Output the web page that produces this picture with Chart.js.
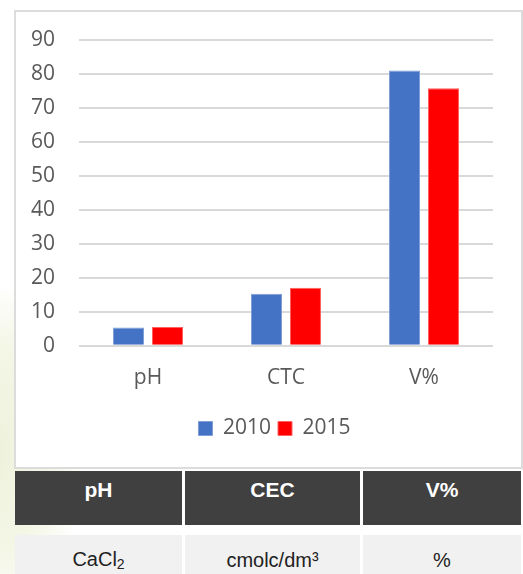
<!DOCTYPE html>
<html>
<head>
<meta charset="utf-8">
<script src="https://cdn.jsdelivr.net/npm/chart.js@4/dist/chart.umd.min.js"></script>
<style>
  html, body { margin: 0; padding: 0; }
  body {
    width: 523px; height: 574px; overflow: hidden; position: relative;
    background: #fff;
  }
  .bg {
    position: absolute; left: -60px; top: 290px; width: 140px; height: 320px;
    background: radial-gradient(ellipse at 40% 50%, #eef2dc 0%, #f4f6e6 45%, rgba(255,255,255,0) 75%);
  }
  .box {
    position: absolute; left: 14px; top: 10px; width: 505px; height: 455px;
    border: 2px solid #dcdcdc; background: #fff;
  }
  table.units {
    position: absolute; left: 12px; top: 468px; width: 512px;
    border-collapse: separate; border-spacing: 3px;
    font-family: "Liberation Sans", Arial, sans-serif; font-size: 20px;
  }
  table.units th {
    background: #404040; color: #fff; font-weight: bold; font-size: 21px; height: 54px;
    padding: 0 0 16px 0; box-sizing: border-box;
  }
  table.units td {
    background: #f1f1f1; color: #222; text-align: center; height: 46px; padding: 2px 0 0 0;
  }
  table.units tr.gap td { background: none; height: 4px; padding: 0; }
</style>
</head>
<body>
<div class="bg"></div>
<div class="box"><canvas id="chart" width="505" height="455"></canvas></div>
<table class="units">
  <tr><th style="width:167px">pH</th><th style="width:175px">CEC</th><th>V%</th></tr>
  <tr class="gap"><td></td><td></td><td></td></tr>
  <tr><td>CaCl<sub style="font-size:14px;vertical-align:-3px">2</sub></td><td>cmolc/dm³</td><td>%</td></tr>
</table>
<script>
  "use strict";

  // Chart data
  var categories = ["pH", "CTC", "V%"];
  var years = ["2010", "2015"];
  var values2010 = [5.4, 15.3, 81.0];
  var values2015 = [5.5, 17.1, 75.8];
  var yTicks = [0, 10, 20, 30, 40, 50, 60, 70, 80, 90];

  var textColor = "#595959";
  var font = { family: "'Open Sans', 'Noto Sans', sans-serif", size: 21 };

  // Legend sits centred on the whole box, not on the plot area
  var legendShift = {
    id: "legendShift",
    afterLayout: function (chart) {
      chart.legend.left += 20;
      chart.legend.right += 20;
    }
  };

  var ctx = document.getElementById("chart").getContext("2d");
  new Chart(ctx, {
    type: "bar",
    data: {
      labels: categories,
      datasets: [{
        label: years[0],
        data: values2010,
        backgroundColor: "#4472c4",
        borderColor: "#7f9fd6",
        borderWidth: 1,
        categoryPercentage: 0.565,
        barPercentage: 0.795
      }, {
        label: years[1],
        data: values2015,
        backgroundColor: "#ff0000",
        borderColor: "#ff6060",
        borderWidth: 1,
        categoryPercentage: 0.565,
        barPercentage: 0.795
      }]
    },
    plugins: [legendShift],
    options: {
      responsive: false,
      animation: false,
      layout: { padding: { left: 0, right: 28, top: 28, bottom: 18 } },
      plugins: {
        tooltip: { enabled: false },
        legend: {
          position: "bottom",
          labels: {
            color: textColor, font: font,
            boxWidth: 14, boxHeight: 14, padding: 7
          }
        }
      },
      scales: {
        x: {
          grid: { display: false, drawTicks: false },
          border: { display: false },
          ticks: { color: textColor, font: font, padding: 20 }
        },
        y: {
          min: 0, max: 90,
          afterBuildTicks: function (scale) {
            scale.ticks = yTicks.map(function (v) { return { value: v }; });
          },
          afterFit: function (scale) {
            // fixed axis width; tick padding should only push labels sideways
            scale.width = 63;
            scale.paddingTop = 0;
            scale.paddingBottom = 0;
          },
          grid: { color: "#d9d9d9", lineWidth: 2, drawTicks: false },
          border: { display: false },
          ticks: { color: textColor, font: font, padding: 24 }
        }
      }
    }
  });
</script>
</body>
</html>
